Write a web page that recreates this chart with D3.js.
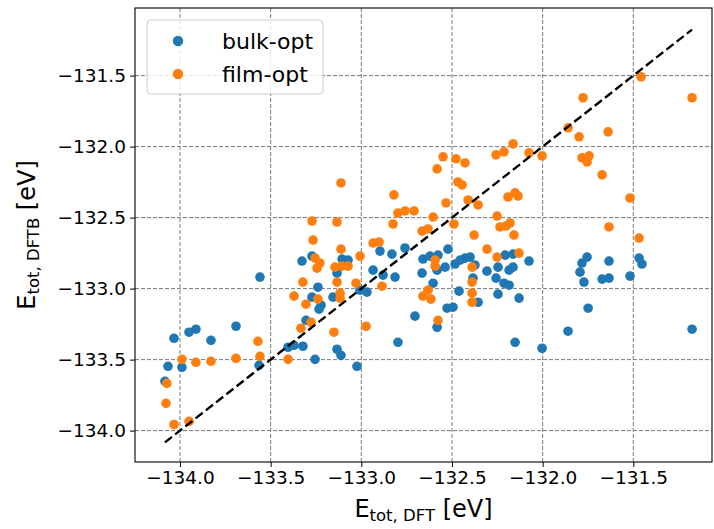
<!DOCTYPE html>
<html>
<head>
<meta charset="utf-8">
<script src="https://cdn.jsdelivr.net/npm/d3@7"></script>
<style>
    body { margin: 0; background: white; }
    #chart-area { width: 714px; height: 529px; }
    text { font-family: "DejaVu Sans", sans-serif; }
</style>
</head>
<body>
<div id="chart-area"></div>
<script>

// values (eV)
const bulkDft = [-134.083, -134.066, -134.033, -133.989, -133.950, -133.912, -133.829, -133.691, -133.564, -133.559,
    -133.404, -133.371, -133.322, -133.255, -133.305, -133.272, -133.233, -133.222, -133.239, -133.156,
    -133.134, -133.112, -133.024, -133.327, -133.272, -133.106, -133.073, -133.134, -132.935, -132.880,
    -133.007, -132.969, -132.897, -132.759, -132.522, -132.831, -132.660, -132.621, -132.577, -132.665,
    -132.582, -132.538, -132.814, -132.604, -132.527, -132.704, -132.798, -132.582, -132.494, -132.483,
    -132.428, -132.400, -132.455, -132.373, -132.461, -132.356, -132.384, -132.307, -132.207, -132.163,
    -132.075, -132.246, -132.185, -132.163, -132.257, -132.213, -132.185, -132.246, -132.130, -131.755,
    -131.783, -131.794, -131.772, -131.634, -131.672, -131.634, -131.518, -131.468, -131.452, -131.749,
    -131.860, -131.176, -132.152, -132.003];
const bulkDftb = [-133.653, -133.547, -133.350, -133.554, -133.307, -133.286, -133.364, -133.265, -133.540, -132.919,
    -133.413, -133.399, -133.406, -133.498, -133.223, -133.060, -133.145, -133.117, -132.990, -133.060,
    -133.427, -133.470, -133.547, -132.806, -132.771, -132.792, -132.799, -132.891, -132.870, -132.905,
    -133.011, -133.025, -132.736, -132.714, -132.722, -132.757, -132.792, -132.771, -132.764, -132.891,
    -132.870, -132.849, -132.919, -132.962, -133.138, -133.194, -133.378, -133.272, -133.131, -132.827,
    -132.785, -132.778, -132.799, -132.834, -133.018, -133.096, -132.926, -132.877, -132.764, -132.757,
    -132.806, -132.849, -132.870, -132.849, -132.926, -132.962, -132.976, -133.039, -133.067, -132.778,
    -132.820, -132.884, -132.954, -132.806, -132.933, -132.926, -132.912, -132.785, -132.827, -133.138,
    -133.300, -133.286, -133.378, -133.420];

const filmDft = [-134.072, -134.077, -134.033, -133.950, -133.989, -133.912, -133.829, -133.691, -133.570, -133.559,
    -133.404, -133.333, -133.277, -133.371, -133.305, -133.239, -133.322, -133.151, -133.112, -133.272,
    -133.134, -133.266, -133.112, -133.007, -132.935, -132.902, -133.255, -133.228, -133.244, -133.145,
    -133.106, -133.073, -133.134, -133.029, -132.886, -133.117, -133.117, -132.974, -132.549, -132.582,
    -132.820, -132.533, -132.798, -132.759, -132.709, -132.825, -132.604, -132.665, -132.632, -132.593,
    -132.593, -132.660, -132.632, -132.616, -132.577, -132.478, -132.428, -132.467, -132.444, -132.411,
    -132.356, -132.489, -132.378, -132.307, -132.389, -132.389, -132.389, -132.389, -131.777, -131.176,
    -131.457, -131.860, -131.799, -131.639, -132.163, -132.213, -132.257, -132.075, -132.003, -131.783,
    -131.744, -131.755, -131.672, -131.518, -132.191, -132.152, -132.136, -132.251, -132.235, -132.202,
    -132.180, -132.158, -131.634, -131.468, -132.251, -132.130];
const filmDftb = [-133.667, -133.808, -133.957, -133.935, -133.498, -133.519, -133.512, -133.491, -133.371, -133.477,
    -133.498, -133.279, -133.237, -133.053, -133.110, -133.074, -132.954, -133.307, -132.256, -132.524,
    -132.531, -132.658, -132.722, -132.771, -132.679, -132.672, -132.785, -132.820, -132.856, -132.849,
    -132.842, -132.842, -132.954, -132.962, -132.983, -133.032, -133.067, -133.265, -132.072, -132.157,
    -132.340, -132.397, -132.468, -132.453, -132.453, -132.545, -132.496, -132.595, -132.580, -132.799,
    -132.842, -133.053, -133.011, -133.074, -133.223, -132.086, -132.115, -132.249, -132.270, -132.376,
    -132.411, -132.545, -132.623, -132.722, -132.849, -132.954, -133.032, -133.096, -131.656, -131.656,
    -131.508, -131.868, -131.931, -131.896, -131.981, -132.037, -132.058, -132.044, -132.065, -132.079,
    -132.065, -132.108, -132.199, -132.362, -132.355, -132.326, -132.348, -132.489, -132.566, -132.559,
    -132.538, -132.623, -132.566, -132.644, -132.778, -132.750];

const seriesNames = ["bulk-opt", "film-opt"];
const seriesColors = ["#1f77b4", "#ff7f0e"];
const tickValues = [-134.0, -133.5, -133.0, -132.5, -132.0, -131.5];
const xDomain = [-134.248, -131.066];
const yDomain = [-134.221, -131.024];

class ParityPlot {

    constructor(parentElement) {
        this.parentElement = parentElement;
        this.displayData = [];

        this.initVis();
    }

    initVis() {
        let vis = this;

        vis.margin = {top: 8, right: 2, bottom: 67, left: 135};
        vis.width = 714 - vis.margin.left - vis.margin.right;
        vis.height = 529 - vis.margin.top - vis.margin.bottom;

        vis.svg = d3.select("#" + vis.parentElement).append("svg")
            .attr("width", 714)
            .attr("height", 529)
            .append("g")
            .attr("transform", `translate(${vis.margin.left}, ${vis.margin.top})`);

        vis.x = d3.scaleLinear().domain(xDomain).range([0, vis.width]);
        vis.y = d3.scaleLinear().domain(yDomain).range([vis.height, 0]);

        // dashed grid
        vis.grid = vis.svg.append("g").attr("class", "grid");
        vis.grid.selectAll(".gx").data(tickValues).enter().append("line")
            .attr("x1", d => vis.x(d)).attr("x2", d => vis.x(d))
            .attr("y1", 0).attr("y2", vis.height);
        vis.grid.selectAll(".gy").data(tickValues).enter().append("line")
            .attr("y1", d => vis.y(d)).attr("y2", d => vis.y(d))
            .attr("x1", 0).attr("x2", vis.width);
        vis.grid.selectAll("line")
            .attr("stroke", "#7a7a7a")
            .attr("stroke-width", 1)
            .attr("stroke-dasharray", "4,2");

        vis.pointsG = vis.svg.append("g").attr("class", "points");
        vis.lineG = vis.svg.append("g").attr("class", "parity");

        // axes
        vis.xAxis = d3.axisBottom(vis.x).tickValues(tickValues).tickFormat(d3.format(".1f"))
            .tickSizeOuter(0).tickSize(5).tickPadding(4);
        vis.yAxis = d3.axisLeft(vis.y).tickValues(tickValues).tickFormat(d3.format(".1f"))
            .tickSizeOuter(0).tickSize(5).tickPadding(4);

        vis.svg.append("g").attr("class", "x-axis")
            .attr("transform", `translate(0, ${vis.height})`)
            .call(vis.xAxis);
        vis.svg.append("g").attr("class", "y-axis")
            .call(vis.yAxis);

        vis.svg.selectAll(".x-axis text, .y-axis text")
            .attr("font-size", "18.5px")
            .attr("font-family", "DejaVu Sans")
            .attr("fill", "black");
        vis.svg.selectAll(".tick line").attr("stroke", "black").attr("stroke-width", 1);
        vis.svg.selectAll(".domain").remove();

        // frame
        vis.svg.append("rect")
            .attr("x", 0).attr("y", 0)
            .attr("width", vis.width).attr("height", vis.height)
            .attr("fill", "none")
            .attr("stroke", "black")
            .attr("stroke-width", 1.1);

        // axis labels
        let xl = vis.svg.append("text")
            .attr("x", vis.width / 2)
            .attr("y", vis.height + 55)
            .attr("text-anchor", "middle")
            .attr("font-size", "24px");
        xl.append("tspan").text("E");
        xl.append("tspan").attr("font-size", "16.5px").attr("dy", 4).text("tot, DFT");
        xl.append("tspan").attr("dy", -4).text(" [eV]");

        let yl = vis.svg.append("text")
            .attr("transform", `translate(${35 - vis.margin.left}, ${vis.height / 2}) rotate(-90)`)
            .attr("text-anchor", "middle")
            .attr("font-size", "24px");
        yl.append("tspan").text("E");
        yl.append("tspan").attr("font-size", "16.5px").attr("dy", 4).text("tot, DFTB");
        yl.append("tspan").attr("dy", -4).text(" [eV]");

        // legend
        vis.legend = vis.svg.append("g").attr("class", "legend")
            .attr("transform", "translate(12, 12)");
        vis.legend.append("rect")
            .attr("width", 176).attr("height", 74)
            .attr("rx", 4)
            .attr("fill", "white").attr("fill-opacity", 0.8)
            .attr("stroke", "#cccccc").attr("stroke-width", 1);
        seriesNames.forEach((name, i) => {
            vis.legend.append("circle")
                .attr("cx", 31).attr("cy", 21 + i * 33)
                .attr("r", 5.2)
                .attr("fill", seriesColors[i]);
            vis.legend.append("text")
                .attr("x", 75).attr("y", 21 + i * 33 + 7.5)
                .attr("font-size", "22px")
                .text(name);
        });

        vis.wrangleData();
    }

    wrangleData() {
        let vis = this;

        vis.displayData = [
            bulkDft.map((d, i) => ({dft: d, dftb: bulkDftb[i], s: 0})),
            filmDft.map((d, i) => ({dft: d, dftb: filmDftb[i], s: 1}))
        ];
        vis.lineExtent = d3.extent(bulkDft.concat(filmDft));

        vis.updateVis();
    }

    updateVis() {
        let vis = this;

        vis.pointsG.selectAll(".series")
            .data(vis.displayData)
            .enter().append("g")
            .attr("class", "series")
            .attr("fill", (d, i) => seriesColors[i])
            .selectAll("circle")
            .data(d => d)
            .enter().append("circle")
            .attr("cx", d => vis.x(d.dft))
            .attr("cy", d => vis.y(d.dftb))
            .attr("r", 4.8);

        vis.lineG.append("line")
            .attr("x1", vis.x(vis.lineExtent[0])).attr("y1", vis.y(vis.lineExtent[0]))
            .attr("x2", vis.x(vis.lineExtent[1])).attr("y2", vis.y(vis.lineExtent[1]))
            .attr("stroke", "black")
            .attr("stroke-width", 2.4)
            .attr("stroke-dasharray", "9,4");

        // legend above the points
        vis.legend.raise();
    }
}

let parityPlot = new ParityPlot("chart-area");

</script>
</body>
</html>
